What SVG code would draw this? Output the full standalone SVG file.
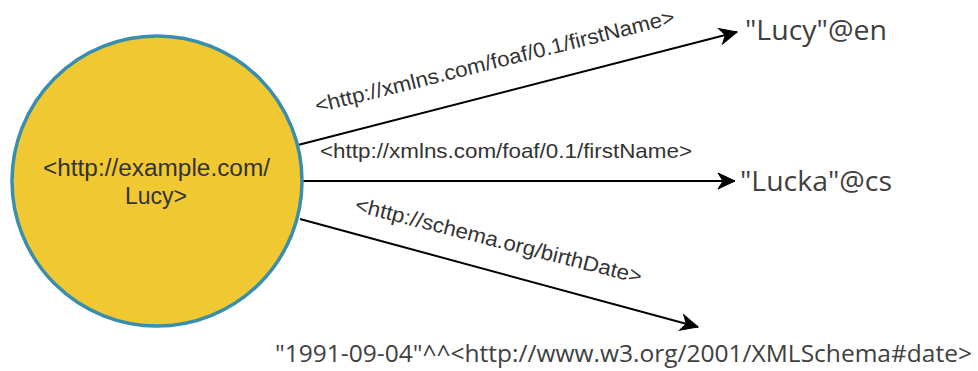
<svg xmlns="http://www.w3.org/2000/svg" width="978" height="371" viewBox="0 0 978 371">
  <style>
    .edge { stroke: #000; stroke-width: 2; fill: none; marker-end: url(#arrow); }
    .lbl { font-family: "Liberation Sans", Arial, sans-serif; font-size: 21px; fill: #333; }
    .node-text { font-family: "Liberation Sans", Arial, sans-serif; font-size: 23px; fill: #333; }
    .lit { font-family: "Open Sans", "Noto Sans", sans-serif; fill: #404040; }
  </style>
  <defs>
    <marker id="arrow" markerUnits="userSpaceOnUse" markerWidth="20" markerHeight="20" viewBox="-18 -10 19 20" refX="0" refY="0" orient="auto">
      <path d="M0,0 L-17,-8 L-12,0 L-17,8 Z" fill="#000" stroke="#000" stroke-width="1" stroke-linejoin="miter"/>
    </marker>
  </defs>
  <rect width="978" height="371" fill="#fff"/>

  <g id="connectors">
    <line class="edge" x1="298" y1="145" x2="737" y2="32"/>
    <line class="edge" x1="303" y1="181" x2="735" y2="181"/>
    <line class="edge" x1="300" y1="219" x2="698" y2="327"/>
    <text class="lbl" x="317" y="113" textLength="370" lengthAdjust="spacingAndGlyphs" transform="rotate(-14.04 317 113)">&lt;http://xmlns.com/foaf/0.1/firstName&gt;</text>
    <text class="lbl" x="320" y="158" textLength="372" lengthAdjust="spacingAndGlyphs">&lt;http://xmlns.com/foaf/0.1/firstName&gt;</text>
    <text class="lbl" x="354" y="211" textLength="295" lengthAdjust="spacingAndGlyphs" transform="rotate(14.27 354 211)">&lt;http://schema.org/birthDate&gt;</text>
  </g>

  <g id="node-lucy">
    <circle cx="157" cy="181" r="145" fill="#F0C832" stroke="#3A8EAD" stroke-width="3.5"/>
    <text class="node-text" x="43" y="176" textLength="227" lengthAdjust="spacingAndGlyphs">&lt;http://example.com/</text>
    <text class="node-text" x="125" y="204" textLength="62" lengthAdjust="spacingAndGlyphs">Lucy&gt;</text>
  </g>

  <g id="node-lucy-en">
    <text class="lit" x="745" y="40" font-size="28" textLength="142" lengthAdjust="spacingAndGlyphs">"Lucy"@en</text>
  </g>

  <g id="node-lucka-cs">
    <text class="lit" x="740" y="191" font-size="28" textLength="152" lengthAdjust="spacingAndGlyphs">"Lucka"@cs</text>
  </g>

  <g id="node-birthdate">
    <text class="lit" x="275" y="362" font-size="23.5" textLength="697" lengthAdjust="spacingAndGlyphs">"1991-09-04"^^&lt;http://www.w3.org/2001/XMLSchema#date&gt;</text>
  </g>
</svg>
